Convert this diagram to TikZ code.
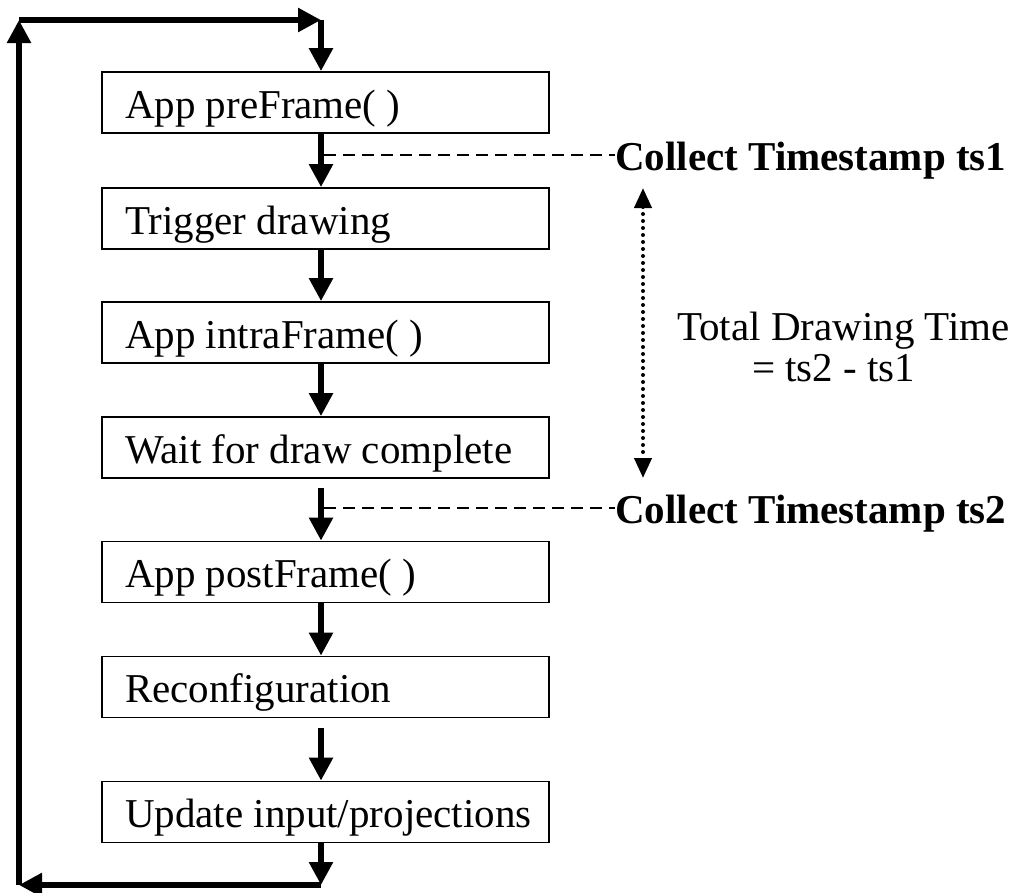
\documentclass[tikz,border=0pt]{standalone}
\usepackage{fontspec}
\setmainfont{Liberation Serif}
\usetikzlibrary{arrows.meta}
\newcommand\slab[1]{\makebox[447pt][l]{\hspace{23pt}#1}}
\begin{document}
\begin{tikzpicture}[x=1pt,y=-1pt,
  font=\fontsize{41}{48}\selectfont,
  stepbox/.style={draw, line width=1.8pt, minimum height=61pt, inner sep=0pt,
    text height=31pt, text depth=0pt},
  flow/.style={line width=5.5pt, line join=miter, -{Triangle[width=23pt,length=23pt]}},
  stamp/.style={line width=2.6pt, dash pattern=on 12pt off 7pt},
  span/.style={line width=4pt, line cap=round, dash pattern=on 0pt off 7pt,
    {Triangle[width=17pt,length=20pt]}-{Triangle[width=17pt,length=20pt]}},
  note/.style={anchor=base west, inner sep=0pt}]
\useasboundingbox (0,0) rectangle (1014,892);

% process steps
\node[stepbox] (b1) at (325.5,102.5) {\slab{App preFrame( )}};
\node[stepbox] (b2) at (325.5,218.5) {\slab{Trigger drawing}};
\node[stepbox] (b3) at (325.5,332.5) {\slab{App intraFrame( )}};
\node[stepbox] (b4) at (325.5,447.5) {\slab{Wait for draw complete}};
\node[stepbox] (b5) at (325.5,572) {\slab{App postFrame( )}};
\node[stepbox] (b6) at (325.5,687) {\slab{Reconfiguration}};
\node[stepbox] (b7) at (325.5,812) {\slab{Update input/projections}};

% loop corners and arrow starts below a gap
\coordinate (tl) at (19,20);
\coordinate (tr) at (321,20);
\coordinate (bl) at (19,885);
\coordinate (br) at (321,885);
\coordinate (g4) at (321,488);
\coordinate (g6) at (321,728);

% main flow
\draw[flow] (tr) -- (tr |- b1.north);
\draw[flow] (tr |- b1.south) -- (tr |- b2.north);
\draw[flow] (tr |- b2.south) -- (tr |- b3.north);
\draw[flow] (tr |- b3.south) -- (tr |- b4.north);
\draw[flow] (g4) -- (tr |- b5.north);
\draw[flow] (tr |- b5.south) -- (tr |- b6.north);
\draw[flow] (g6) -- (tr |- b7.north);
\draw[flow] (tr |- b7.south) -- (br);
\draw[flow] (br) -- (bl);
\draw[flow] (bl) -- (tl);
\draw[flow] (tl) -- (tr);

% timestamps
\node[note, font=\fontsize{41}{48}\selectfont\bfseries] (ts1) at (615,170) {Collect Timestamp ts1};
\node[note, font=\fontsize{41}{48}\selectfont\bfseries] (ts2) at (615,523) {Collect Timestamp ts2};
\coordinate (d1) at (324,155);
\coordinate (d2) at (324,508);
\draw[stamp] (d1) -- (d1 -| ts1.west);
\draw[stamp] (d2) -- (d2 -| ts2.west);

% drawing time span
\coordinate (s1) at (643,188);
\coordinate (s2) at (643,478);
\draw[span] (s1) -- (s2);
\node[note] (tdt) at (677,340) {Total Drawing Time};
\node[note] (eq) at (752,381) {= ts2 - ts1};
\end{tikzpicture}
\end{document}
